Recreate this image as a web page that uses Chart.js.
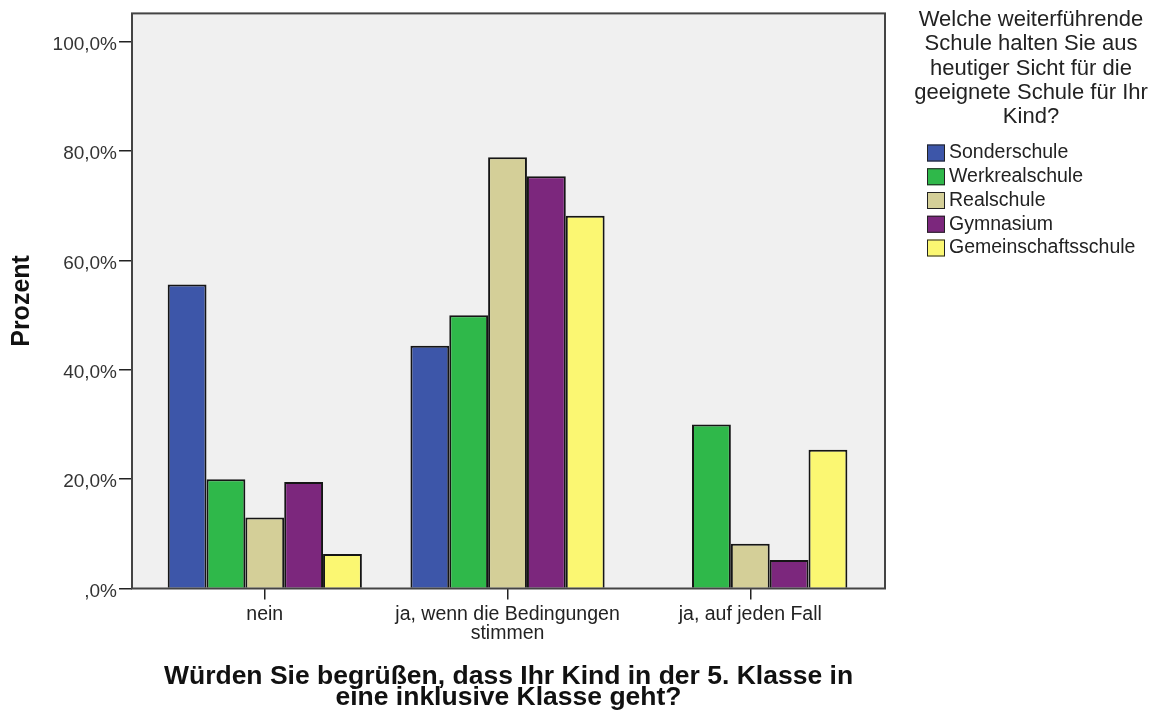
<!DOCTYPE html>
<html lang="de">
<head>
<meta charset="utf-8">
<title>Inklusive Klasse</title>
<script src="https://cdn.jsdelivr.net/npm/chart.js@4/dist/chart.umd.min.js"></script>
<style>
  html, body { margin: 0; padding: 0; background: #fff; }
  #wrap { width: 1161px; height: 713px; }
</style>
</head>
<body>
<div id="wrap"><canvas id="chart" width="1161" height="713"></canvas></div>
<script>
const categories = ['nein', ['ja, wenn die Bedingungen', 'stimmen'], 'ja, auf jeden Fall'];
const schools = ['Sonderschule', 'Werkrealschule', 'Realschule', 'Gymnasium', 'Gemeinschaftsschule'];
const sonderschule = [55.6, 44.4, 0];
const werkrealschule = [20.0, 50.0, 30.0];
const realschule = [13.0, 78.9, 8.2];
const gymnasium = [19.5, 75.4, 5.2];
const gemeinschaftsschule = [6.3, 68.2, 25.4];
const yTicks = [0, 20, 40, 60, 80, 100];
const legendTitle = ['Welche weiterführende', 'Schule halten Sie aus', 'heutiger Sicht für die', 'geeignete Schule für Ihr', 'Kind?'];
const xTitle = ['Würden Sie begrüßen, dass Ihr Kind in der 5. Klasse in', 'eine inklusive Klasse geht?'];
const yTitle = 'Prozent';

const seriesValues = [sonderschule, werkrealschule, realschule, gymnasium, gemeinschaftsschule];
const colors = ['#3d56a9', '#2fb84a', '#d4cf98', '#7c277d', '#fbf772'];
const family = 'Arial, "Liberation Sans", sans-serif';

// grauer Plotbereich + Rahmen
const plotFrame = {
  id: 'plotFrame',
  beforeDraw(chart) {
    const { ctx, chartArea: a } = chart;
    ctx.save();
    ctx.fillStyle = '#f0f0f0';
    ctx.fillRect(a.left, a.top, a.right - a.left, a.bottom - a.top);
    ctx.restore();
  },
  afterDatasetsDraw(chart) {
    const { ctx, chartArea: a } = chart;
    ctx.save();
    ctx.strokeStyle = '#444';
    ctx.lineWidth = 2;
    ctx.strokeRect(a.left, a.top, a.right - a.left, a.bottom - a.top);
    ctx.restore();
  }
};

// Legende rechts mit mehrzeiligem Titel
const sideLegend = {
  id: 'sideLegend',
  afterDraw(chart) {
    const ctx = chart.ctx;
    ctx.save();
    ctx.fillStyle = '#222';
    ctx.textAlign = 'center';
    ctx.textBaseline = 'middle';
    ctx.font = '22px ' + family;
    legendTitle.forEach((line, i) => ctx.fillText(line, 1031, 20 + i * 24.3));
    ctx.textAlign = 'left';
    ctx.font = '19.5px ' + family;
    chart.data.datasets.forEach((ds, i) => {
      const y = 153 + i * 23.75;
      ctx.fillStyle = ds.backgroundColor;
      ctx.fillRect(927, y - 8.5, 18, 17);
      ctx.strokeStyle = '#222';
      ctx.lineWidth = 1;
      ctx.strokeRect(927.5, y - 8, 17, 16);
      ctx.fillStyle = '#222';
      ctx.fillText(ds.label, 949, y);
    });
    ctx.restore();
  }
};

new Chart(document.getElementById('chart'), {
  type: 'bar',
  data: {
    datasets: schools.map((name, k) => ({
      label: name,
      data: seriesValues[k].map((v, i) => ({ x: i, y: v })),
      backgroundColor: colors[k],
      borderColor: '#151515',
      borderWidth: 2,
      borderSkipped: 'start',
      categoryPercentage: 0.8,
      barPercentage: 1.0
    }))
  },
  options: {
    responsive: false,
    animation: false,
    events: [],
    layout: { padding: { left: 0, right: 276, top: 11, bottom: 0 } },
    plugins: {
      legend: { display: false },
      tooltip: { enabled: false }
    },
    scales: {
      x: {
        type: 'linear',
        min: -0.547,
        max: 2.555,
        bounds: 'data',
        offset: false,
        afterBuildTicks: s => { s.ticks = categories.map((c, i) => ({ value: i })); },
        afterFit: s => { s.height = 124.5; },
        grid: { offset: false, drawOnChartArea: false, drawTicks: true, tickLength: 11, color: '#222', lineWidth: 1.5 },
        border: { display: false },
        ticks: {
          callback: v => categories[v],
          color: '#222',
          font: { family, size: 19.5, lineHeight: 1 },
          padding: 5,
          maxRotation: 0,
          autoSkip: false
        },
        title: {
          display: true,
          text: xTitle,
          color: '#111',
          font: { family, size: 26.5, weight: 'bold', lineHeight: '21px' },
          padding: { top: 0, bottom: 5 }
        }
      },
      y: {
        min: 0,
        max: 105.19,
        bounds: 'data',
        afterBuildTicks: s => { s.ticks = yTicks.map(v => ({ value: v })); },
        afterFit: s => { s.width = 132; },
        grid: { drawOnChartArea: false, drawTicks: true, tickLength: 13, color: '#222', lineWidth: 1.5 },
        border: { display: false },
        ticks: {
          callback: v => v === 0 ? ',0%' : v.toFixed(1).replace('.', ',') + '%',
          color: '#333',
          font: { family, size: 19 },
          padding: 2,
          labelOffset: 3
        },
        title: {
          display: true,
          text: yTitle,
          color: '#111',
          font: { family, size: 25, weight: 'bold', lineHeight: 1 },
          padding: { top: 10, bottom: 0 }
        }
      }
    }
  },
  plugins: [plotFrame, sideLegend]
});
</script>
</body>
</html>
